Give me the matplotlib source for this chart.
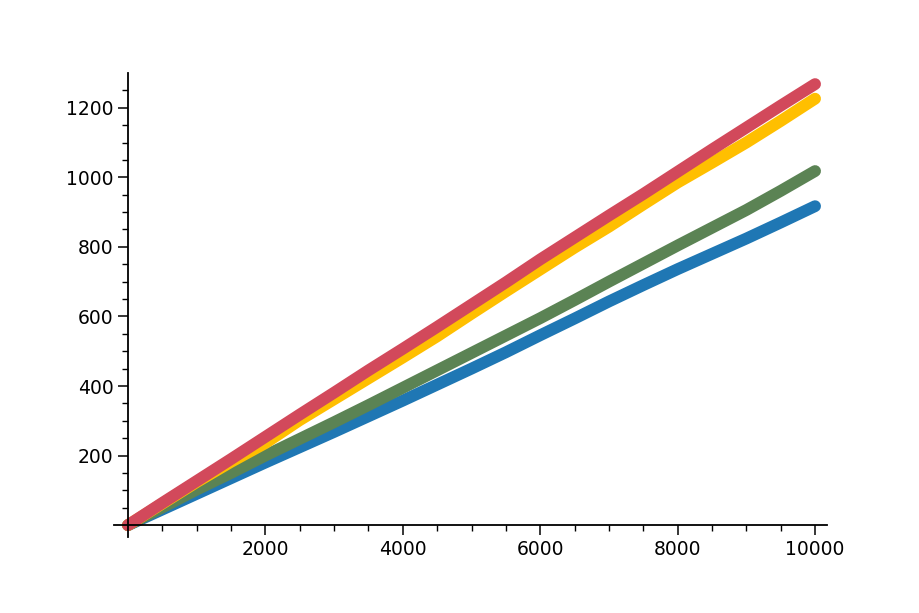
import numpy as np
from matplotlib import pyplot as plt

# values, every 500 steps
steps = [0, 500, 1000, 1500, 2000, 2500, 3000, 3500, 4000, 4500, 5000,
         5500, 6000, 6500, 7000, 7500, 8000, 8500, 9000, 9500, 10000]
blue = [0, 45, 90, 135, 180, 224, 268, 313, 358, 404, 450,
        497, 546, 594, 643, 690, 736, 780, 824, 870, 917]
green = [0, 51, 102, 150, 200, 248, 296, 345, 395, 445, 495,
         545, 595, 647, 700, 752, 804, 855, 906, 961, 1018]
yellow = [0, 62, 124, 182, 236, 302, 362, 422, 482, 543, 608,
          672, 735, 798, 858, 922, 985, 1042, 1100, 1162, 1226]
red = [0, 64, 127, 190, 254, 318, 381, 445, 507, 570, 634,
       698, 764, 827, 890, 952, 1016, 1080, 1143, 1206, 1268]

series = [(blue, '#1f77b4'), (green, '#5b8354'), (yellow, '#ffbf00'), (red, '#d2495b')]

xticks = [2000, 4000, 6000, 8000, 10000]
yticks = [200, 400, 600, 800, 1000, 1200]

fig = plt.figure(figsize=(9.19, 6.13), dpi=100)
ax = fig.add_axes([0.124, 0.124, 0.776, 0.757])

for vals, col in series:
    ax.plot(steps, vals, color=col, linewidth=8.5,
            solid_capstyle='round', solid_joinstyle='round')

ax.set_xlim(-204, 10175)
ax.set_ylim(-34, 1300)

# Sage-like axes crossing at the origin
ax.spines['top'].set_visible(False)
ax.spines['right'].set_visible(False)
ax.spines['left'].set_position(('data', 0))
ax.spines['bottom'].set_position(('data', 0))
ax.spines['left'].set_linewidth(1.3)
ax.spines['bottom'].set_linewidth(1.3)

ax.set_xticks(xticks)
ax.set_yticks(yticks)
ax.set_xticks(np.arange(500, 10001, 500), minor=True)
ax.set_yticks(np.arange(50, 1300, 50), minor=True)
ax.tick_params(which='major', length=7, width=1.1, labelsize=13.5)
ax.tick_params(which='minor', length=4, width=1.0)

fig.savefig('out.png', dpi=100)
